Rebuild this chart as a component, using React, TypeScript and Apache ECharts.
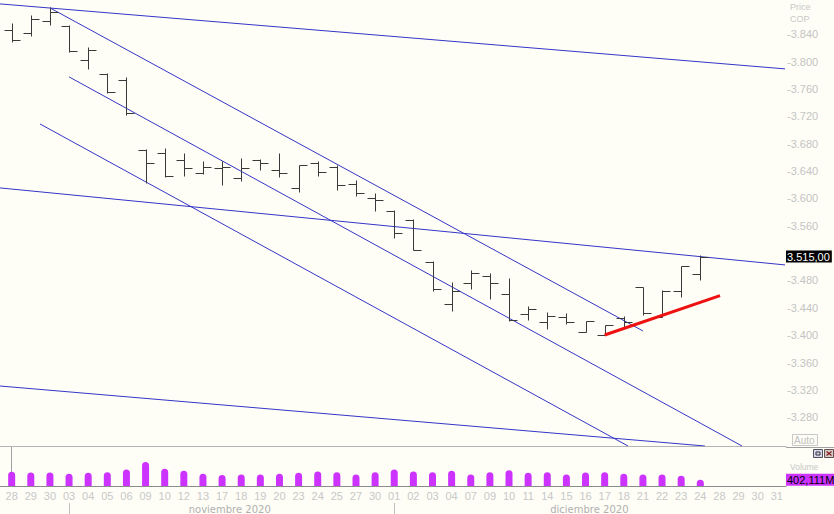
import React, { useEffect, useRef } from "react";
import * as echarts from "echarts";

// ---------- data ----------
const dateLabels = ["28","29","30","03","04","05","06","09","10","12","13","17","18","19","20","23","24","25","27","30","01","02","03","04","07","09","10","11","14","15","16","17","18","21","22","23","24","28","29","30","31"];
const monthLabels = ["noviembre 2020", "diciembre 2020"];
const monthLabelAt = [11.4, 30.2];
const monthStartAt = [3, 20];

const opens = [3846,3842,3859,3852,3802,3782,3773,3671,3667,3656,3637,3644,3630,3656,3642,3615,3651,3646,3621,3600,3582,3569,3507,3446,3477,3486,3460,3431,3420,3426,3405,3401,3425,3470,3427,3465,3490];
const highs = [3856,3868,3880,3853,3822,3783,3777,3672,3673,3667,3655,3654,3659,3658,3666,3649,3655,3649,3627,3608,3583,3570,3508,3478,3496,3491,3483,3442,3434,3433,3421,3415,3428,3471,3466,3501,3517];
const lows = [3828,3838,3854,3814,3789,3754,3722,3623,3631,3633,3636,3620,3626,3641,3631,3609,3632,3612,3604,3582,3542,3524,3465,3436,3467,3453,3421,3422,3409,3417,3404,3400,3412,3430,3426,3456,3481];
const closes = [3831,3862,3872,3815,3817,3756,3725,3651,3632,3644,3646,3646,3644,3651,3637,3649,3638,3619,3608,3597,3550,3525,3468,3465,3491,3476,3422,3438,3428,3420,3421,3415,3420,3432,3465,3501,3515];
const volumes = [910,868,868,783,846,889,1058,1545,1100,973,783,698,741,741,783,846,931,889,741,889,1058,931,889,973,741,889,1016,846,889,741,868,889,783,741,741,656,402.111];

// tick labels visible on the price axis (3.520 is covered by the last-price box)
const priceTicks = [3280,3320,3360,3400,3440,3480,3560,3600,3640,3680,3720,3760,3800,3840];
const lastPrice = 3515;
const lastVolume = 402.111;

// trend lines: [index, price] endpoints
const trendLines = [
  [[-0.61, 3884.3], [40.43, 3789.3]],
  [[2.0, 3878.5], [33.0, 3406.2]],
  [[3.0, 3777.6], [38.18, 3238.0]],
  [[1.48, 3708.8], [32.22, 3238.0]],
  [[-0.61, 3615.3], [40.43, 3502.7]],
  [[-0.61, 3325.7], [36.24, 3238.0]],
];
const supportLine = [[31.0, 3400.3], [37.03, 3457.8]];

// ---------- layout ----------
const X_MIN = -0.61;
const X_MAX = 40.48;
const P_MIN = 3238;
const P_MAX = 3890;
const V_MAX = 2500;
const NUM_FONT = "Liberation Sans";

const fmtPrice = (v: number) => (v / 1000).toFixed(3);
const fmtLastPrice = (v: number) => fmtPrice(v) + ",00";
const fmtVolume = (v: number) => v.toFixed(3).replace(".", ",") + "M";

export default function App() {
  const ref = useRef<HTMLDivElement>(null);
  useEffect(() => {
    if (!ref.current) return;
    const chart = echarts.init(ref.current, undefined, { renderer: "svg" });
    const ohlc = opens.map((o, i) => [i, o, highs[i], lows[i], closes[i]]);
    const snap = (v: number) => Math.round(v) + 0.5;
    const option: any = {
      animation: false,
      backgroundColor: "#fefef6",
      grid: [
        { left: 0, top: 0, width: 786, height: 446, containLabel: false, outerBoundsMode: "none" },
        { left: 0, top: 447, width: 786, height: 39, containLabel: false, outerBoundsMode: "none" },
      ],
      xAxis: [
        {
          type: "value", gridIndex: 0, min: X_MIN, max: X_MAX, position: "bottom",
          axisLine: { show: true, lineStyle: { color: "#b4b4b4", width: 1 } },
          axisTick: { show: false }, axisLabel: { show: false }, splitLine: { show: false },
        },
        {
          type: "value", gridIndex: 1, min: X_MIN, max: X_MAX, position: "bottom",
          axisLine: { show: true, lineStyle: { color: "#8c8c8c", width: 1 } },
          axisTick: { show: false }, splitLine: { show: false },
          axisLabel: {
            show: true, customValues: dateLabels.map((_, i) => i),
            formatter: (v: number) => dateLabels[Math.round(v)] ?? "",
            color: "#c8c8c8", fontSize: 11, fontFamily: NUM_FONT, margin: 4,
            showMinLabel: true, showMaxLabel: true, hideOverlap: false,
          },
        },
        {
          type: "value", gridIndex: 1, min: X_MIN, max: X_MAX, position: "bottom",
          axisLine: { show: false }, axisTick: { show: false }, splitLine: { show: false },
          axisLabel: {
            show: true, customValues: monthLabelAt,
            formatter: (v: number) => monthLabels[monthLabelAt.indexOf(v)] ?? "",
            color: "#b0b0b0", fontSize: 10, fontFamily: "DejaVu Sans", margin: 18,
          },
        },
        {
          type: "value", gridIndex: 1, min: X_MIN, max: X_MAX, position: "bottom", offset: 17,
          axisLine: { show: false }, splitLine: { show: false }, axisLabel: { show: false },
          axisTick: { show: true, customValues: monthStartAt, length: 11, lineStyle: { color: "#c0c0c0" } },
        },
      ],
      yAxis: [
        {
          type: "value", gridIndex: 0, min: P_MIN, max: P_MAX, position: "right",
          axisLine: { show: false }, splitLine: { show: false }, axisTick: { show: false },
          axisLabel: {
            show: true, customValues: priceTicks, formatter: (v: number) => "-" + fmtPrice(v),
            color: "#c4c4c4", fontSize: 11, fontFamily: NUM_FONT, margin: 1,
          },
        },
        {
          type: "value", gridIndex: 0, min: P_MIN, max: P_MAX, position: "right",
          axisLine: { show: false }, splitLine: { show: false }, axisTick: { show: false },
          axisLabel: {
            show: true, customValues: [lastPrice], formatter: fmtLastPrice,
            color: "#ffffff", backgroundColor: "#000000", padding: [1, 2, 0, 1],
            fontSize: 11, fontFamily: NUM_FONT, margin: 0,
          },
        },
        {
          type: "value", gridIndex: 1, min: 0, max: V_MAX, position: "right",
          axisLine: { show: true, lineStyle: { color: "#a0a0a0" } },
          splitLine: { show: false }, axisTick: { show: false },
          axisLabel: {
            show: true, customValues: [lastVolume], formatter: fmtVolume,
            color: "#000000", backgroundColor: "#cc33ff", padding: [1, 4, 0, 1],
            fontSize: 11, fontFamily: NUM_FONT, margin: 0,
          },
        },
      ],
      series: [
        ...trendLines.map((pts) => ({
          type: "line", xAxisIndex: 0, yAxisIndex: 0, data: pts, symbol: "none",
          lineStyle: { color: "#3535c8", width: 1 }, silent: true, z: 2,
        })),
        {
          type: "line", xAxisIndex: 0, yAxisIndex: 0, data: supportLine, symbol: "none",
          lineStyle: { color: "#ee1111", width: 3 }, silent: true, z: 4,
        },
        {
          type: "custom", xAxisIndex: 0, yAxisIndex: 0, data: ohlc, z: 3,
          encode: { x: 0, y: [1, 2, 3, 4] },
          renderItem: (_p: any, api: any) => {
            const i = api.value(0);
            const pO = api.coord([i, api.value(1)]);
            const pH = api.coord([i, api.value(2)]);
            const pL = api.coord([i, api.value(3)]);
            const pC = api.coord([i, api.value(4)]);
            const x = snap(pH[0]);
            const style = { stroke: "#3a3a3a", lineWidth: 1 };
            return {
              type: "group",
              children: [
                { type: "line", shape: { x1: x, y1: snap(pH[1]), x2: x, y2: snap(pL[1]) }, style },
                { type: "line", shape: { x1: x - 8, y1: snap(pO[1]), x2: x, y2: snap(pO[1]) }, style },
                { type: "line", shape: { x1: x, y1: snap(pC[1]), x2: x + 8, y2: snap(pC[1]) }, style },
              ],
            };
          },
        },
        {
          type: "bar", xAxisIndex: 1, yAxisIndex: 2,
          data: volumes.map((v, i) => [i, v]), barWidth: 7,
          itemStyle: { color: "#cc33ff", borderRadius: [3.5, 3.5, 0, 0] },
        },
      ],
      graphic: [
        { type: "text", left: 790, top: 2, style: { text: "Price", fill: "#c8c8c8", font: "9px Liberation Sans" } },
        { type: "text", left: 790, top: 14, style: { text: "COP", fill: "#c8c8c8", font: "9px Liberation Sans" } },
        { type: "rect", shape: { x: 792.5, y: 434.5, width: 25, height: 11 }, style: { fill: "#fefef6", stroke: "#c8c8c8", lineWidth: 1 } },
        { type: "text", left: 794, top: 435, style: { text: "Auto", fill: "#c0c0c0", font: "10px Liberation Sans" } },
        { type: "line", shape: { x1: 786, y1: 447.5, x2: 834, y2: 447.5 }, style: { stroke: "#a0a0a0", lineWidth: 1 } },
        { type: "rect", shape: { x: 813.5, y: 449.5, width: 9, height: 8 }, style: { fill: "#d8d8e8", stroke: "#505060", lineWidth: 1 } },
        { type: "rect", shape: { x: 816, y: 452, width: 4, height: 3 }, style: { fill: "none", stroke: "#303040", lineWidth: 1 } },
        { type: "rect", shape: { x: 824.5, y: 449.5, width: 9, height: 8 }, style: { fill: "#d8c8c8", stroke: "#605050", lineWidth: 1 } },
        { type: "line", shape: { x1: 826.5, y1: 451.5, x2: 831.5, y2: 455.5 }, style: { stroke: "#802020", lineWidth: 1.2 } },
        { type: "line", shape: { x1: 831.5, y1: 451.5, x2: 826.5, y2: 455.5 }, style: { stroke: "#802020", lineWidth: 1.2 } },
        { type: "text", left: 790, top: 462, style: { text: "Volume", fill: "#c8c8c8", font: "8.5px Liberation Sans" } },
      ],
    };
    chart.setOption(option);
    return () => chart.dispose();
  }, []);
  return (
    <div
      ref={ref}
      style={{ position: "fixed", left: 0, top: 0, width: 834, height: 514 }}
    />
  );
}
